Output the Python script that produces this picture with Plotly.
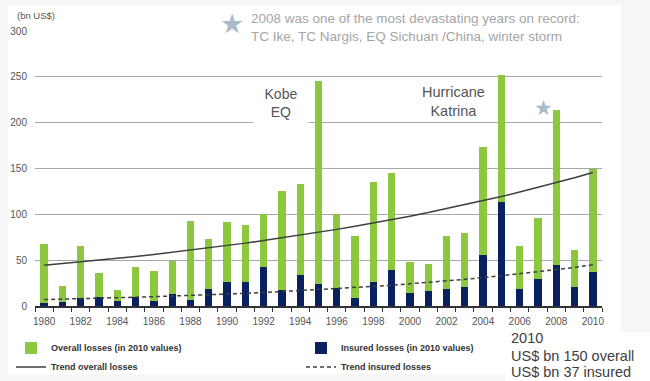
import plotly.graph_objects as go

# Natural catastrophes 1980-2010: overall and insured losses (bn US$, 2010 values)
years = list(range(1980, 2011))
overall_losses = [68, 21.5, 65, 36, 18, 43, 38, 49, 92.5, 73,
                  91.5, 88.5, 100, 125.5, 133.5, 245, 100, 76.5, 135.5, 145.5,
                  48.5, 45.5, 76.5, 79.5, 173.5, 252.5, 66, 96.5, 214, 61,
                  150]
insured_losses = [3.5, 4, 9, 10, 6, 9.5, 5, 13, 7, 19,
                  26, 26, 43, 18, 34, 24, 19.5, 9, 26, 39,
                  14, 16, 19, 21, 56, 113.5, 19, 29, 45, 21,
                  37]
trend_overall = [44.4, 46.2, 48.1, 50.0, 52.0, 54.1, 56.3, 58.6, 60.9, 63.4,
                 66.0, 68.6, 71.4, 74.3, 77.3, 80.4, 83.6, 87.0, 90.5, 94.2,
                 98.0, 101.9, 106.1, 110.3, 114.8, 119.4, 124.3, 129.3, 134.5, 139.9,
                 145.6]
trend_insured = [7.0, 7.4, 7.9, 8.4, 9.0, 9.6, 10.2, 10.8, 11.5, 12.2,
                 13.0, 13.8, 14.7, 15.7, 16.7, 17.7, 18.9, 20.1, 21.4, 22.7,
                 24.2, 25.7, 27.4, 29.1, 31.0, 33.0, 35.1, 37.3, 39.7, 42.2,
                 44.9]
year_ticks = list(range(1980, 2011, 2))
y_ticks = [0, 50, 100, 150, 200, 250, 300]
summary_lines = ["2010", "US$ bn 150 overall", "US$ bn 37 insured"]

GREEN = "#8dc63f"
NAVY = "#0a215f"
TREND = "#3f3f3f"
FONT = "Liberation Sans"

W, H = 650, 381
L, R, T, B = 35, 48, 30.7, 74.5
PW, PH = W - L - R, H - T - B


def px(x):
    """Pixel column -> paper x."""
    return (x - L) / PW


def py(y):
    """Pixel row -> paper y."""
    return (H - B - y) / PH


fig = go.Figure()
fig.add_trace(go.Bar(x=years, y=overall_losses, name="Overall losses (in 2010 values)",
                     marker=dict(color=GREEN, line=dict(width=0)), width=0.4))
fig.add_trace(go.Bar(x=years, y=insured_losses, name="Insured losses (in 2010 values)",
                     marker=dict(color=NAVY, line=dict(width=0)), width=0.4))
fig.add_trace(go.Scatter(x=years, y=trend_overall, name="Trend overall losses", mode="lines",
                         line=dict(color=TREND, width=1.5)))
fig.add_trace(go.Scatter(x=years, y=trend_insured, name="Trend insured losses", mode="lines",
                         line=dict(color=TREND, width=1.5, dash="4px,3px")))

shapes = [
    # white panel behind the chart
    dict(type="rect", xref="paper", yref="paper", x0=px(8), x1=px(621), y0=py(375), y1=py(5),
         fillcolor="white", line=dict(width=0), layer="below"),
    # white box behind the 2010 summary
    dict(type="rect", xref="paper", yref="paper", x0=px(505), x1=px(652), y0=py(383), y1=py(333),
         fillcolor="white", line=dict(width=0), layer="below"),
    # white box behind the 2008 note
    dict(type="rect", xref="paper", yref="paper", x0=px(196), x1=px(621), y0=py(55), y1=py(5),
         fillcolor="white", line=dict(width=0), layer="above"),
]

annotations = [
    dict(text="(bn US$)", xref="paper", yref="paper", x=px(15), y=py(15), xanchor="left",
         yanchor="middle", showarrow=False, font=dict(family=FONT, size=9.5, color="#555555")),
    dict(text="Kobe<br>EQ", x=1992.93, y=222, showarrow=False, width=54, height=44,
         bgcolor="white", borderpad=0, font=dict(family=FONT, size=14, color="#555555")),
    dict(text="Hurricane<br>Katrina", x=2002.4, y=223, showarrow=False,
         font=dict(family=FONT, size=14.5, color="#555555")),
    dict(text="★", x=2007.3, y=216, showarrow=False,
         font=dict(family="DejaVu Sans", size=21, color="#a9bcc8")),
    dict(text="★", xref="paper", yref="paper", x=px(232), y=py(23), showarrow=False,
         xanchor="center", yanchor="middle",
         font=dict(family="DejaVu Sans", size=27, color="#a9bcc8")),
    dict(text="2008 was one of the most devastating years on record:<br>"
              "TC Ike, TC Nargis, EQ Sichuan /China, winter storm",
         xref="paper", yref="paper", x=px(249), y=py(27.5), xanchor="left", yanchor="middle",
         align="left", showarrow=False, font=dict(family=FONT, size=13.5, color="#a5a5a5")),
]
# 2010 summary, one annotation per line for tight spacing
for line, row in zip(summary_lines, [339, 357, 373]):
    annotations.append(dict(text=line, xref="paper", yref="paper", x=px(509), y=py(row),
                            xanchor="left", yanchor="middle", showarrow=False,
                            font=dict(family=FONT, size=14.5, color="#404040")))

fig.update_layout(
    width=W, height=H,
    margin=dict(l=L, r=R, t=T, b=B, pad=0, autoexpand=False),
    paper_bgcolor="#f6f6f6", plot_bgcolor="white",
    barmode="overlay", bargap=0,
    font=dict(family=FONT, color="#555555"),
    shapes=shapes, annotations=annotations,
    legend=dict(orientation="h", x=px(11), y=py(334), xanchor="left", yanchor="top",
                entrywidth=245, itemwidth=30, traceorder="normal",
                bgcolor="rgba(0,0,0,0)",
                font=dict(family=FONT, size=9, color="#333333", weight="bold")),
    xaxis=dict(range=[1979.5, 2010.5], tickmode="array", tickvals=year_ticks,
               ticks="outside", ticklen=5, tickcolor="rgba(0,0,0,0)",
               tickfont=dict(family=FONT, size=10, color="#555555"),
               showgrid=False, zeroline=False, showline=True, linecolor="#333333", linewidth=1.5,
               minor=dict(tickmode="array", tickvals=[y - 0.5 for y in years] + [years[-1] + 0.5],
                          ticks="outside", ticklen=4, tickcolor="#333333", tickwidth=1, showgrid=False)),
    yaxis=dict(range=[0, 300], tickmode="array", tickvals=y_ticks,
               ticks="outside", ticklen=5, tickcolor="rgba(0,0,0,0)",
               tickfont=dict(family=FONT, size=10, color="#555555"),
               showgrid=True, gridcolor="#a8a8a8", gridwidth=1, zeroline=False, showline=False),
)

fig.write_html("out.html")
